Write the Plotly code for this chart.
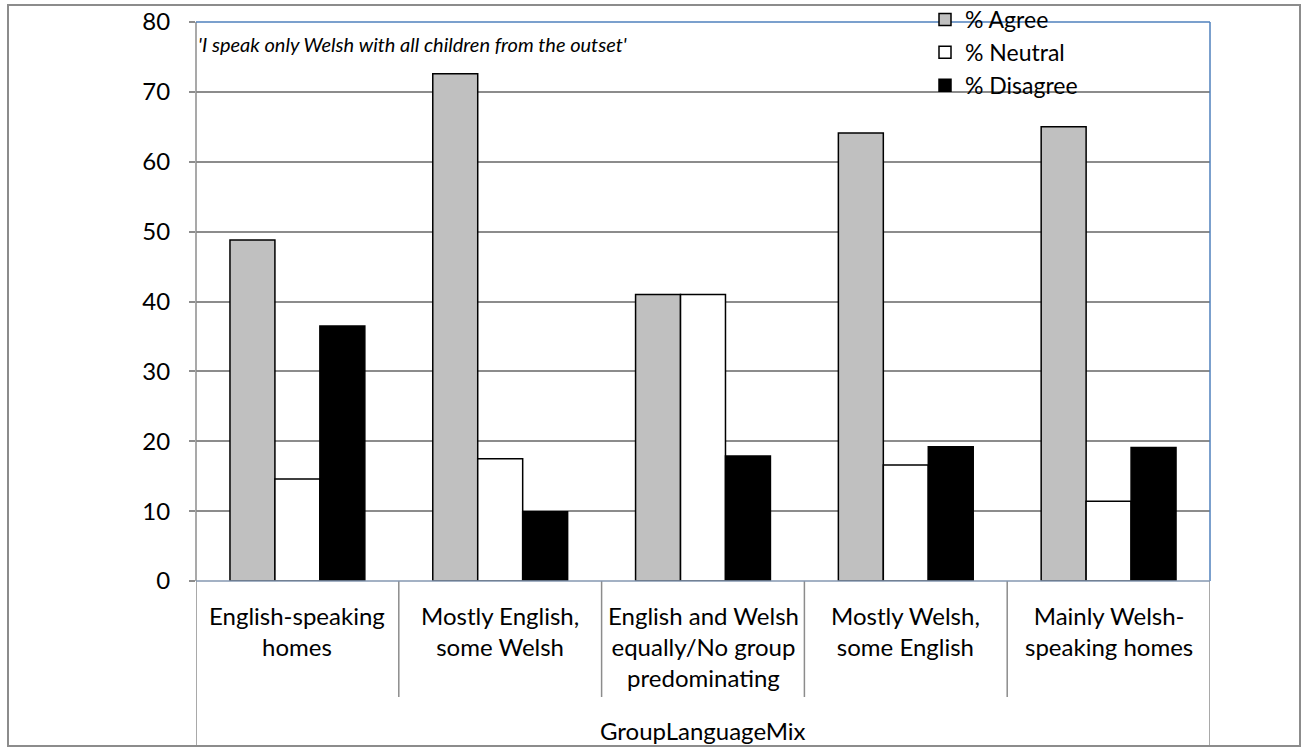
import plotly.graph_objects as go

categories = [
    "English-speaking<br>homes",
    "Mostly English,<br>some Welsh",
    "English and Welsh<br>equally/No group<br>predominating",
    "Mostly Welsh,<br>some English",
    "Mainly Welsh-<br>speaking homes",
]
cat_keys = ["c0", "c1", "c2", "c3", "c4"]
agree = [48.8, 72.6, 41.0, 64.1, 65.0]
neutral = [14.6, 17.5, 41.0, 16.6, 11.4]
disagree = [36.5, 9.9, 17.9, 19.2, 19.1]
series_names = ["% Agree", "% Neutral", "% Disagree"]
series_colors = ["#C0C0C0", "#FFFFFF", "#000000"]
y_ticks = [0, 10, 20, 30, 40, 50, 60, 70, 80]
title_text = "'I speak only Welsh with all children from the outset'"
axis_title = "GroupLanguageMix"

FONT = "Lato"
W, H = 1308, 749
L, R, T, B = 196, 98, 22, 168
pw, ph = W - L - R, H - T - B

def px_y(py):
    return (H - B - py) / ph

def px_x(pxx):
    return (pxx - L) / pw

fig = go.Figure()
for name, vals, col in zip(series_names, [agree, neutral, disagree], series_colors):
    fig.add_trace(go.Bar(
        x=cat_keys, y=vals, name=name,
        marker=dict(color=col, line=dict(color="#000000", width=1.5)),
    ))

shapes = []
for i in range(len(cat_keys) - 1):
    shapes.append(dict(type="line", xref="x", yref="paper", x0=i + 0.5, x1=i + 0.5,
                       y0=0, y1=px_y(697), line=dict(color="#8C8C8C", width=1.5)))
for xv in [-0.5, len(cat_keys) - 0.5]:
    shapes.append(dict(type="line", xref="x", yref="paper", x0=xv, x1=xv,
                       y0=px_y(746), y1=0, line=dict(color="#8C8C8C", width=1.5)))
shapes.append(dict(type="line", xref="paper", yref="paper", x0=0, x1=0, y0=0, y1=1,
                   line=dict(color="#8C8C8C", width=1.5)))
shapes.append(dict(type="line", xref="paper", yref="paper", x0=0, x1=1, y0=1, y1=1,
                   line=dict(color="#4F81BD", width=1.5)))
shapes.append(dict(type="line", xref="paper", yref="paper", x0=1, x1=1, y0=0, y1=1,
                   line=dict(color="#4F81BD", width=1.5)))
shapes.append(dict(type="line", xref="paper", yref="paper", x0=0, x1=1, y0=0, y1=0,
                   line=dict(color="#8497B0", width=1.5)))
shapes.append(dict(type="rect", xref="paper", yref="paper",
                   x0=px_x(8), x1=px_x(1300), y0=px_y(746), y1=px_y(5),
                   line=dict(color="#8C8C8C", width=2), fillcolor="rgba(0,0,0,0)"))

annotations = []
for k, lab in zip(cat_keys, categories):
    annotations.append(dict(x=k, xref="x", y=px_y(599), yref="paper", text=lab,
                            showarrow=False, xanchor="center", yanchor="top",
                            font=dict(family=FONT, size=24, color="#000000")))
annotations.append(dict(x=0.5, xref="paper", y=px_y(730), yref="paper", text=axis_title,
                        showarrow=False, xanchor="center", yanchor="middle",
                        font=dict(family=FONT, size=24, color="#000000")))
annotations.append(dict(x=px_x(196), xref="paper", y=px_y(44), yref="paper", text=title_text,
                        showarrow=False, xanchor="left", yanchor="middle",
                        font=dict(family=FONT, size=20, color="#000000", style="italic")))

fig.update_layout(
    width=W, height=H,
    margin=dict(l=L, r=R, t=T, b=B, autoexpand=False),
    paper_bgcolor="#FFFFFF", plot_bgcolor="#FFFFFF",
    barmode="group", bargap=0.335, bargroupgap=0,
    font=dict(family=FONT, size=24, color="#000000"),
    showlegend=True,
    legend=dict(x=px_x(925), y=px_y(-2), xanchor="left", yanchor="top",
                bgcolor="rgba(0,0,0,0)", font=dict(family=FONT, size=23),
                tracegroupgap=0, itemwidth=30),
    xaxis=dict(type="category", range=[-0.5, 4.5], showticklabels=False,
               showgrid=False, zeroline=False, showline=False, ticks=""),
    yaxis=dict(range=[0, 80], tickvals=y_ticks, showgrid=True, gridcolor="#8C8C8C",
               gridwidth=1.5, zeroline=False, showline=False, ticks="outside",
               ticklen=6, tickcolor="#8C8C8C", tickwidth=1.5,
               tickfont=dict(family=FONT, size=24, color="#000000"),
               ticklabelstandoff=14),
    shapes=shapes,
    annotations=annotations,
)

fig.write_html("out.html", config={"displayModeBar": False},
               post_script="document.body.style.margin='0';document.body.style.overflow='hidden';")
